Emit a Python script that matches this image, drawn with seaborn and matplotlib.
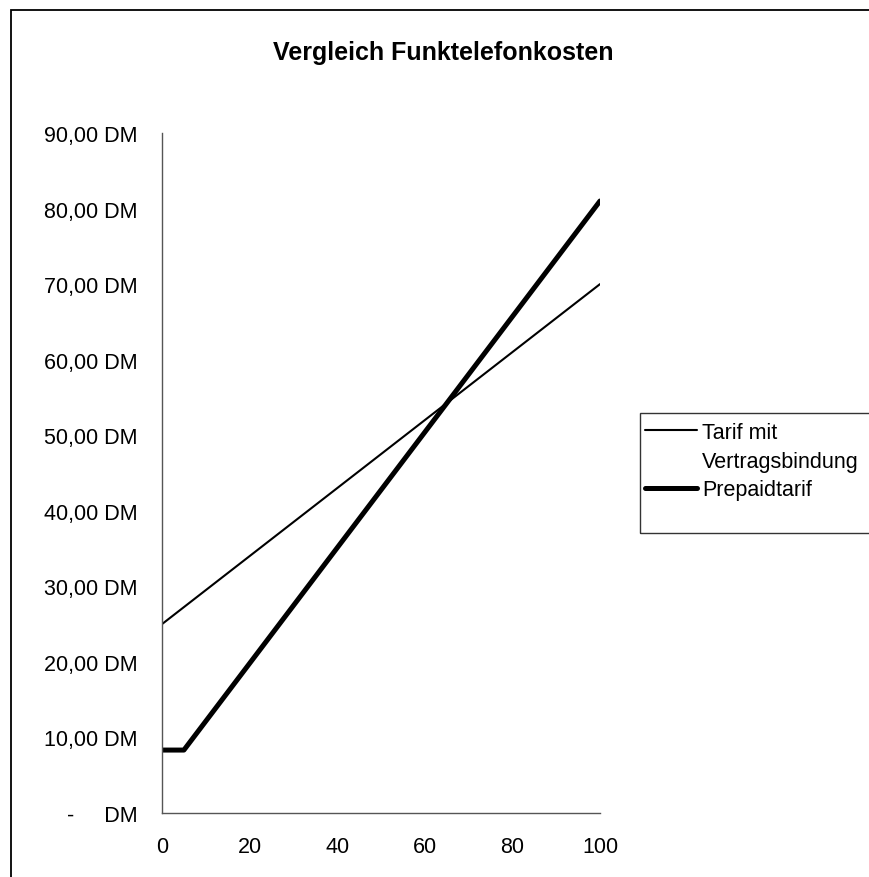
import matplotlib
matplotlib.use("Agg")
import matplotlib.pyplot as plt
from matplotlib.patches import Rectangle
from matplotlib.lines import Line2D
import seaborn as sns
import pandas as pd

# Minutes per month and monthly cost in DM for both tariffs
minuten = [0, 5, 20, 40, 60, 80, 100]
tarif_vertrag = [25.0, 27.25, 34.0, 43.0, 52.0, 61.0, 70.0]
prepaid = [8.33, 8.33, 19.8, 35.1, 50.4, 65.7, 81.0]

serie_namen = ["Tarif mit Vertragsbindung", "Prepaidtarif"]
y_ticks = [0, 10, 20, 30, 40, 50, 60, 70, 80, 90]
x_ticks = [0, 20, 40, 60, 80, 100]

sns.set_theme(style="white")
plt.rcParams["font.family"] = ["Liberation Sans", "DejaVu Sans"]
plt.rcParams["text.color"] = "black"

fig = plt.figure(figsize=(8.69, 8.78), dpi=100)
W, H = 869, 878

# chart-area frame (runs past the right and bottom edges)
fig.patches.append(Rectangle((11 / W, -0.2), 1.5, 1.2 - 11 / H,
                             transform=fig.transFigure, fill=False,
                             edgecolor="black", linewidth=1.3, zorder=0))

ax = fig.add_axes([162 / W, 1 - 814 / H, (600 - 162) / W, (814 - 134) / H])
ax.set_facecolor("none")

df = pd.DataFrame({"Minuten": minuten,
                   serie_namen[0]: tarif_vertrag,
                   serie_namen[1]: prepaid})

sns.lineplot(data=df, x="Minuten", y=serie_namen[0], ax=ax,
             color="black", linewidth=1.5, estimator=None, sort=True)
sns.lineplot(data=df, x="Minuten", y=serie_namen[1], ax=ax,
             color="black", linewidth=3.6, estimator=None, sort=True)

ax.set_xlim(0, 100)
ax.set_ylim(0, 90)
ax.set_xticks(x_ticks)
ax.set_yticks(y_ticks)
ax.set_xticklabels([str(t) for t in x_ticks])
ylabels = [("-     DM" if t == 0 else f"{t:.2f}".replace(".", ",") + " DM")
           for t in y_ticks]
ax.set_yticklabels(ylabels)
ax.set_xlabel("")
ax.set_ylabel("")

for s in ("top", "right"):
    ax.spines[s].set_visible(False)
for s in ("left", "bottom"):
    ax.spines[s].set_color("#555555")
    ax.spines[s].set_linewidth(1.0)

ax.tick_params(axis="both", which="major", direction="out", length=4.3,
               width=1.0, color="#555555", labelsize=15.5, labelcolor="black")
ax.tick_params(axis="y", pad=13.5)
ax.tick_params(axis="x", pad=12.5)

fig.text(443 / W, 1 - 53 / H, "Vergleich Funktelefonkosten",
         ha="center", va="center", fontsize=18, fontweight="bold",
         color="black")

# legend box
fig.patches.append(Rectangle((640 / W, 1 - 534 / H), 0.5, 120 / H,
                             transform=fig.transFigure, fill=False,
                             edgecolor="#333333", linewidth=1.0))
handles = [Line2D([], [], color="black", linewidth=1.5),
           Line2D([], [], color="none", linewidth=0),
           Line2D([], [], color="black", linewidth=3.6)]
labels = ["Tarif mit", "Vertragsbindung", "Prepaidtarif"]
fig.legend(handles, labels, loc="upper left",
           bbox_to_anchor=(645 / W, 1 - 423 / H), bbox_transform=fig.transFigure,
           frameon=False, fontsize=15.5, handlelength=2.4, handletextpad=0.25,
           borderpad=0, borderaxespad=0, labelspacing=0.36)

fig.savefig("out.png", dpi=100)
